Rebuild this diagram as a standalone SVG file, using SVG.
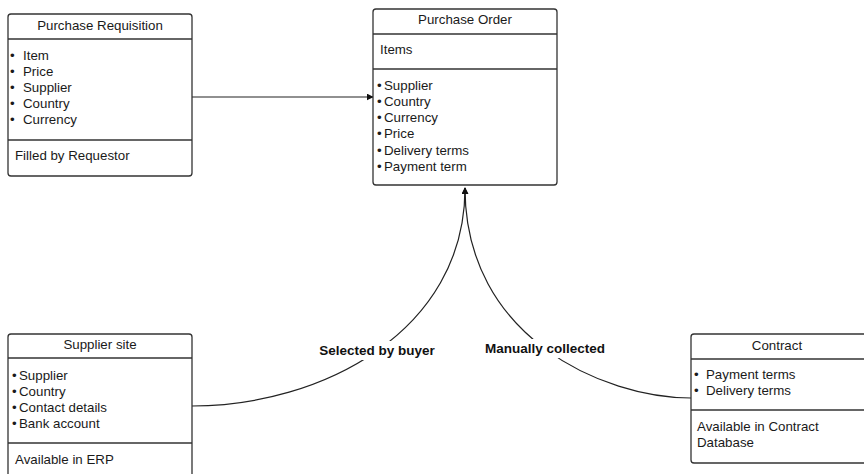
<svg xmlns="http://www.w3.org/2000/svg" width="864" height="474" viewBox="0 0 864 474">
  <style>
    .box { fill: #ffffff; stroke: #333333; stroke-width: 1.3; }
    .div { stroke: #333333; stroke-width: 1.3; }
    .t { font-family: "Liberation Sans", Arial, sans-serif; font-size: 13.3px; fill: #1a1a1a; }
    .c { text-anchor: middle; }
    .lbl { font-family: "Liberation Sans", Arial, sans-serif; font-size: 13.5px; font-weight: bold; fill: #111111; text-anchor: middle; }
    .edge { fill: none; stroke: #222222; stroke-width: 1.2; }
  </style>
  <defs>
    <marker id="arrow" viewBox="0 0 10 10" refX="9" refY="5" markerWidth="7" markerHeight="7" markerUnits="userSpaceOnUse" orient="auto">
      <path d="M0,0 L10,5 L0,10 Z" fill="#111111"/>
    </marker>
  </defs>

  <rect width="864" height="474" fill="#ffffff"/>

  <!-- connectors -->
  <g id="connectors">
    <path class="edge" d="M192,97 L373,97" marker-end="url(#arrow)"/>
    <path class="edge" d="M192,406 C321,406 465,332 465,188" marker-end="url(#arrow)"/>
    <path class="edge" d="M691,398 C603,398 465,337 465,188" marker-end="url(#arrow)"/>
    <!-- label backgrounds break the curves -->
    <rect x="316" y="341" width="122" height="19" fill="#ffffff"/>
    <rect x="482" y="339" width="126" height="19" fill="#ffffff"/>
    <text class="lbl" x="377" y="355">Selected by buyer</text>
    <text class="lbl" x="545" y="353">Manually collected</text>
  </g>

  <!-- Purchase Requisition -->
  <g id="purchase-requisition">
    <rect class="box" x="8" y="14" width="184" height="162" rx="3"/>
    <line class="div" x1="8" y1="39" x2="192" y2="39"/>
    <line class="div" x1="8" y1="140" x2="192" y2="140"/>
    <text class="t c" x="100" y="30">Purchase Requisition</text>
    <text class="t" x="10" y="60">•<tspan x="23">Item</tspan></text>
    <text class="t" x="10" y="76">•<tspan x="23">Price</tspan></text>
    <text class="t" x="10" y="92">•<tspan x="23">Supplier</tspan></text>
    <text class="t" x="10" y="108">•<tspan x="23">Country</tspan></text>
    <text class="t" x="10" y="124">•<tspan x="23">Currency</tspan></text>
    <text class="t" x="15" y="160">Filled by Requestor</text>
  </g>

  <!-- Purchase Order -->
  <g id="purchase-order">
    <rect class="box" x="373" y="9" width="184" height="176" rx="3"/>
    <line class="div" x1="373" y1="34" x2="557" y2="34"/>
    <line class="div" x1="373" y1="69" x2="557" y2="69"/>
    <text class="t c" x="465" y="24">Purchase Order</text>
    <text class="t" x="380" y="54">Items</text>
    <text class="t" x="377" y="90">•<tspan x="384">Supplier</tspan></text>
    <text class="t" x="377" y="106">•<tspan x="384">Country</tspan></text>
    <text class="t" x="377" y="122">•<tspan x="384">Currency</tspan></text>
    <text class="t" x="377" y="138">•<tspan x="384">Price</tspan></text>
    <text class="t" x="377" y="155">•<tspan x="384">Delivery terms</tspan></text>
    <text class="t" x="377" y="171">•<tspan x="384">Payment term</tspan></text>
  </g>

  <!-- Supplier site -->
  <g id="supplier-site">
    <rect class="box" x="8" y="334" width="184" height="150" rx="3"/>
    <line class="div" x1="8" y1="358" x2="192" y2="358"/>
    <line class="div" x1="8" y1="443" x2="192" y2="443"/>
    <text class="t c" x="100" y="349">Supplier site</text>
    <text class="t" x="12" y="380">•<tspan x="19">Supplier</tspan></text>
    <text class="t" x="12" y="396">•<tspan x="19">Country</tspan></text>
    <text class="t" x="12" y="412">•<tspan x="19">Contact details</tspan></text>
    <text class="t" x="12" y="428">•<tspan x="19">Bank account</tspan></text>
    <text class="t" x="15" y="464">Available in ERP</text>
  </g>

  <!-- Contract -->
  <g id="contract">
    <rect class="box" x="691" y="334" width="184" height="129" rx="3"/>
    <line class="div" x1="691" y1="359" x2="875" y2="359"/>
    <line class="div" x1="691" y1="410" x2="875" y2="410"/>
    <text class="t c" x="777" y="350">Contract</text>
    <text class="t" x="694" y="379">•<tspan x="706">Payment terms</tspan></text>
    <text class="t" x="694" y="395">•<tspan x="706">Delivery terms</tspan></text>
    <text class="t" x="697" y="431">Available in Contract</text>
    <text class="t" x="697" y="447">Database</text>
  </g>
</svg>
